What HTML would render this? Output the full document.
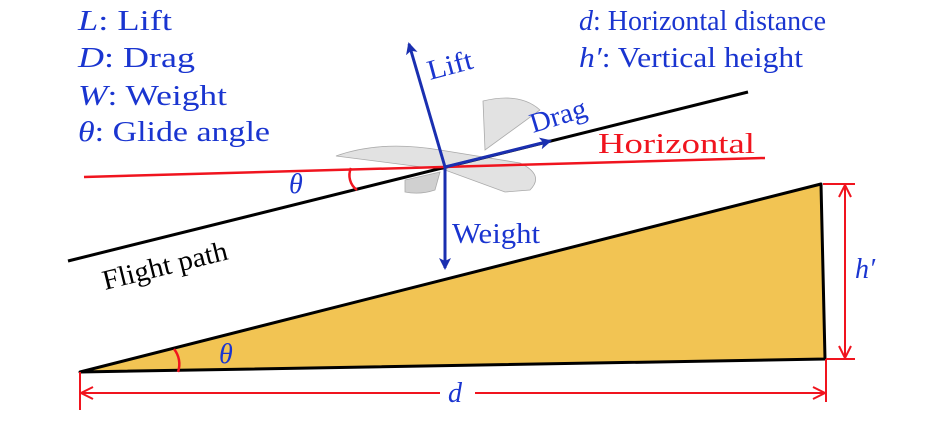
<!DOCTYPE html>
<html><head><meta charset="utf-8"><style>
html,body{margin:0;padding:0;background:#fff;}
svg{display:block;}
</style></head><body>
<svg width="945" height="425" viewBox="0 0 945 425" xmlns="http://www.w3.org/2000/svg" font-family="'Liberation Serif', serif">
<defs>
<marker id="ab" markerWidth="12" markerHeight="12" refX="10" refY="6" orient="auto" markerUnits="userSpaceOnUse"><path d="M0,0 L12,6 L0,12 L3,6 Z" fill="#1a2fb0"/></marker>
<marker id="ar" markerWidth="14" markerHeight="14" refX="13" refY="7" orient="auto" markerUnits="userSpaceOnUse"><path d="M1,1 L13,7 L1,13" fill="none" stroke="#f0141e" stroke-width="2"/></marker>
</defs>
<g fill="#1a35d0" font-size="28" font-family="'Liberation Serif', serif">
<text x="78" y="30" textLength="94" lengthAdjust="spacingAndGlyphs"><tspan font-style="italic">L</tspan>: Lift</text>
<text x="78" y="67" textLength="117" lengthAdjust="spacingAndGlyphs"><tspan font-style="italic">D</tspan>: Drag</text>
<text x="78" y="105" textLength="149" lengthAdjust="spacingAndGlyphs"><tspan font-style="italic">W</tspan>: Weight</text>
<text x="78" y="141" textLength="192" lengthAdjust="spacingAndGlyphs"><tspan font-style="italic">θ</tspan>: Glide angle</text>
<text x="579" y="30" textLength="247" lengthAdjust="spacingAndGlyphs"><tspan font-style="italic">d</tspan>: Horizontal distance</text>
<text x="579" y="67" textLength="224" lengthAdjust="spacingAndGlyphs"><tspan font-style="italic">h′</tspan>: Vertical height</text>
</g>
<polygon points="80,372 821,184 825,359" fill="#f2c453" stroke="#000" stroke-width="3" stroke-linejoin="round"/>
<g fill="#e2e2e2" stroke="#aaa" stroke-width="0.8">
<path d="M336,156 Q380,140 440,150 L520,163 Q545,175 530,190 L505,192 L445,170 Z"/>
<path d="M483,101 Q520,92 540,110 L485,150 Z"/>
<path d="M405,180 L440,172 L435,190 Q420,195 405,192 Z" fill="#d0d0d0"/>
</g>
<line x1="68" y1="261" x2="748" y2="92" stroke="#000" stroke-width="3"/>
<line x1="84" y1="177" x2="765" y2="158" stroke="#f0141e" stroke-width="2.5"/>
<path d="M351,168 A18,18 0 0 0 357,190" fill="none" stroke="#f0141e" stroke-width="2.5"/>
<path d="M174,349 A24,24 0 0 1 178,372" fill="none" stroke="#f0141e" stroke-width="2.5"/>
<g stroke="#1a2fb0" stroke-width="3">
<line x1="445" y1="167" x2="409" y2="44" marker-end="url(#ab)"/>
<line x1="445" y1="167" x2="445" y2="268" marker-end="url(#ab)"/>
<line x1="445" y1="167" x2="550" y2="141" marker-end="url(#ab)"/>
</g>
<g fill="#1a35d0" font-size="28" font-family="'Liberation Serif', serif">
<text x="430" y="80" transform="rotate(-15 430 80)" textLength="46" lengthAdjust="spacingAndGlyphs">Lift</text>
<text x="533" y="133" transform="rotate(-17 533 133)" textLength="58" lengthAdjust="spacingAndGlyphs">Drag</text>
<text x="452" y="243" textLength="88" lengthAdjust="spacingAndGlyphs">Weight</text>
<text x="289" y="193" font-style="italic">θ</text>
<text x="219" y="363" font-style="italic">θ</text>
<text x="448" y="402" font-style="italic">d</text>
<text x="855" y="278" font-style="italic">h′</text>
</g>
<text x="598" y="153" font-size="28" fill="#f0141e" textLength="157" lengthAdjust="spacingAndGlyphs" font-family="'Liberation Serif', serif">Horizontal</text>
<text x="105" y="290" font-size="28" fill="#000" transform="rotate(-14 105 290)" textLength="128" lengthAdjust="spacingAndGlyphs" font-family="'Liberation Serif', serif">Flight path</text>
<g stroke="#f0141e" stroke-width="2">
<line x1="80" y1="372" x2="80" y2="410"/>
<line x1="826" y1="359" x2="826" y2="402"/>
<line x1="823" y1="184" x2="855" y2="184"/>
<line x1="826" y1="359" x2="855" y2="359"/>
<line x1="440" y1="393" x2="81" y2="393" marker-end="url(#ar)"/>
<line x1="475" y1="393" x2="825" y2="393" marker-end="url(#ar)"/>
<line x1="845" y1="270" x2="845" y2="185" marker-end="url(#ar)"/>
<line x1="845" y1="270" x2="845" y2="358" marker-end="url(#ar)"/>
</g>
</svg>
</body></html>
